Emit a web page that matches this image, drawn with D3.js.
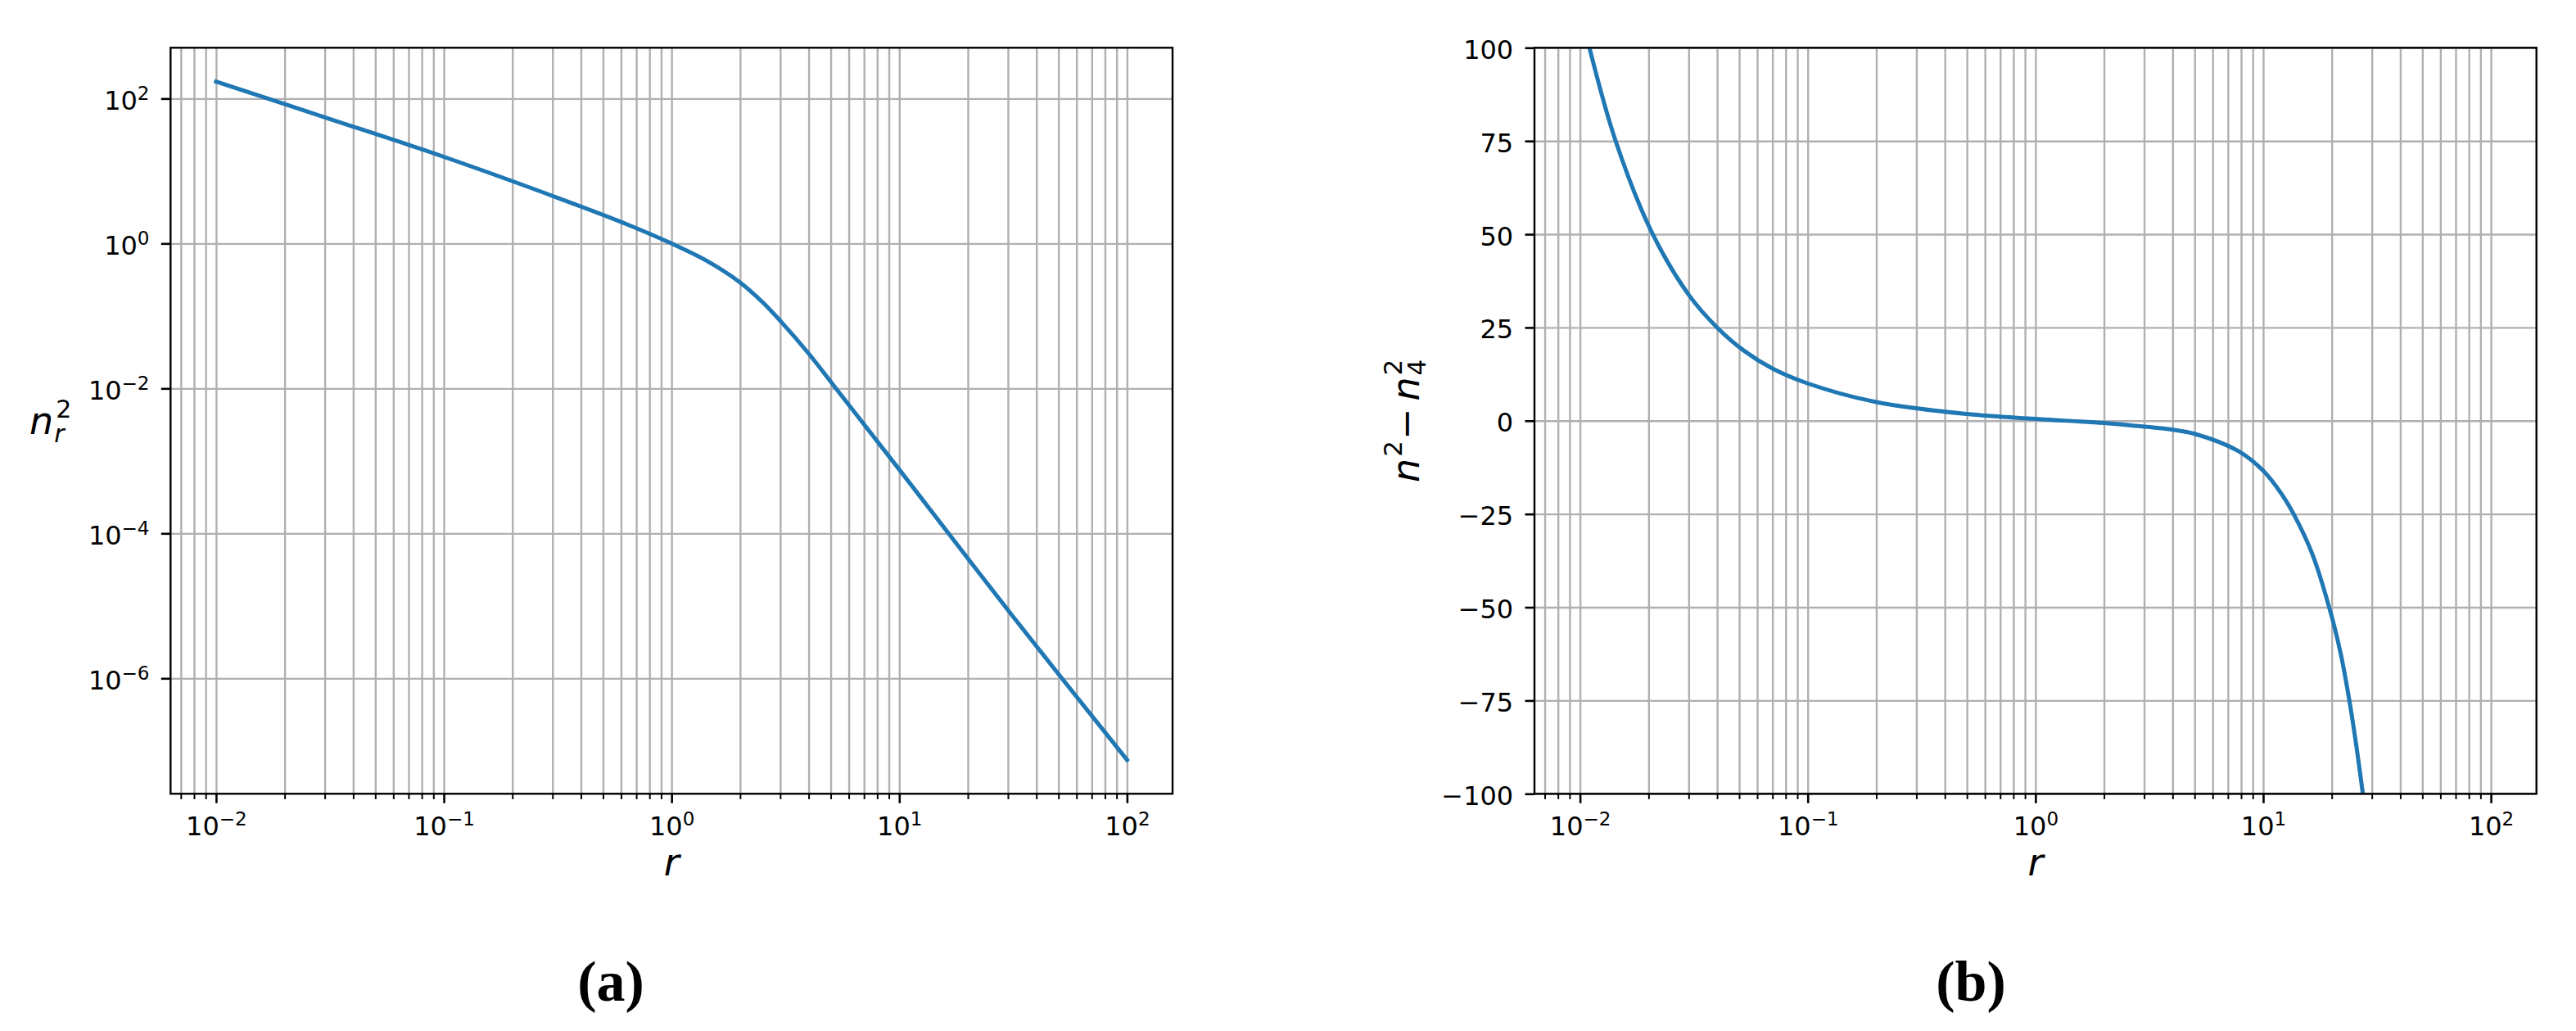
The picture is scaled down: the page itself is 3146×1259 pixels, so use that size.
<!DOCTYPE html>
<html>
<head>
<meta charset="utf-8">
<script src="https://cdn.jsdelivr.net/npm/d3@7"></script>
<style>
body { margin: 0; background: #fff; }
svg text { font-family: "DejaVu Sans", sans-serif; }
</style>
</head>
<body>
<svg id="fig" width="3146" height="1259"></svg>
<script>
// panel (a): n_r^2 against r (log-log)
var rA = [0.01, 0.0316, 0.1, 0.316, 0.631, 1, 1.41, 2, 2.51, 3, 3.98, 5.15, 10, 31.6, 100];
var nA = [171, 52.2, 15.7, 4.27, 1.86, 1.0, 0.589, 0.29, 0.155, 0.086, 0.0309, 0.011, 7.6e-4, 7.1e-6, 7.5e-8];

// panel (b): n^2 - n_4^2 against r (log x, linear y)
var rB = [0.011, 0.0143, 0.0206, 0.03, 0.04, 0.0527, 0.07, 0.1, 0.2, 0.5, 1, 2, 2.58, 4, 5, 7.76, 10, 12, 13.6, 16.5, 19.9, 22, 23.9, 25.7, 27.4];
var dB = [100, 75.2, 50.7, 33.8, 25, 18.7, 14, 10, 5, 1.8, 0.5, -0.6, -1.2, -2.4, -3.5, -8.1, -13.4, -19.5, -25, -36, -52, -63, -75, -87.5, -100];

// ticks
var xTickExp = [-2, -1, 0, 1, 2];
var yTickExpA = [2, 0, -2, -4, -6];
var yTicksB = [100, 75, 50, 25, 0, -25, -50, -75, -100];
var panelNames = ["(a)", "(b)"];

var lineColor = "#1f77b4";
var gridColor = "#b0b0b0";

var plotTop = 58.3, plotBottom = 969.3;
var plotH = plotBottom - plotTop;
var panelA = {left: 208.3, right: 1432};
var panelB = {left: 1874, right: 3097.7};

var svg = d3.select("#fig");
svg.append("rect").attr("width", 3146).attr("height", 1259).attr("fill", "#fff");

// matplotlib style 5% margin, in log space for log axes
function logPad(lo, hi) {
	var a = Math.log10(lo), b = Math.log10(hi), m = 0.05 * (b - a);
	return [Math.pow(10, a - m), Math.pow(10, b + m)];
}

function minorTicks(domain) {
	var out = [];
	for (var e = -4; e <= 3; e++) {
		for (var k = 2; k <= 9; k++) {
			var v = k * Math.pow(10, e);
			if (v >= domain[0] && v <= domain[1]) out.push(v);
		}
	}
	return out;
}

function expText(e) {
	return (e < 0 ? "\u2212" : "") + Math.abs(e);
}

var xMajor = xTickExp.map(function(e){ return Math.pow(10, e); });
var xDomain = logPad(rA[0], rA[rA.length - 1]);

function drawPanel(p, x, y, yMajor, yIsLog, rs, vs, clipId) {
	var g = svg.append("g").attr("transform", "translate(" + p.left + "," + plotTop + ")");
	var w = p.right - p.left;
	var xMinor = minorTicks(x.domain());

	// grid
	g.append("g").attr("transform", "translate(0," + plotH + ")")
		.call(d3.axisBottom(x).tickValues(xMajor.concat(xMinor)).tickSize(plotH).tickFormat(""))
		.call(function(s){ s.select(".domain").remove(); })
		.selectAll("line").attr("y2", -plotH).attr("stroke", gridColor).attr("stroke-width", 2.4);
	g.append("g")
		.call(d3.axisLeft(y).tickValues(yMajor).tickSize(w).tickFormat(""))
		.call(function(s){ s.select(".domain").remove(); })
		.selectAll("line").attr("x2", w).attr("stroke", gridColor).attr("stroke-width", 2.4);

	// curve
	g.append("clipPath").attr("id", clipId).append("rect").attr("width", w).attr("height", plotH);
	var line = d3.line()
		.x(function(d, i){ return x(rs[i]); })
		.y(function(d){ return y(d); })
		.curve(d3.curveCatmullRom.alpha(0.5));
	g.append("path").datum(vs)
		.attr("clip-path", "url(#" + clipId + ")")
		.attr("d", line)
		.attr("fill", "none")
		.attr("stroke", lineColor)
		.attr("stroke-width", 5)
		.attr("stroke-linecap", "square");

	// spines
	g.append("rect").attr("width", w).attr("height", plotH)
		.attr("fill", "none").attr("stroke", "#000").attr("stroke-width", 2.4);

	// x ticks
	g.append("g").attr("transform", "translate(0," + plotH + ")")
		.call(d3.axisBottom(x).tickValues(xMinor).tickSize(6.6).tickFormat(""))
		.call(function(s){ s.select(".domain").remove(); })
		.selectAll("line").attr("stroke", "#000").attr("stroke-width", 2);
	var xa = g.append("g").attr("transform", "translate(0," + plotH + ")")
		.call(d3.axisBottom(x).tickValues(xMajor).tickSize(11.5).tickFormat(""))
		.call(function(s){ s.select(".domain").remove(); })
		.attr("font-family", null).attr("font-size", 32);
	xa.selectAll("line").attr("stroke", "#000").attr("stroke-width", 2.6);
	xa.selectAll(".tick text").each(function(d){
		var t = d3.select(this).attr("y", 50.7).attr("dy", null).attr("fill", "#000").text("10");
		t.append("tspan").attr("dy", -12).attr("font-size", 23).text(expText(Math.round(Math.log10(d))));
	});

	// y ticks
	var ya = g.append("g")
		.call(d3.axisLeft(y).tickValues(yMajor).tickSize(11.5).tickFormat(""))
		.call(function(s){ s.select(".domain").remove(); })
		.attr("font-family", null).attr("font-size", 32);
	ya.selectAll("line").attr("stroke", "#000").attr("stroke-width", 2.6);
	ya.selectAll(".tick text").each(function(d){
		var t = d3.select(this).attr("x", -25.8).attr("y", 13).attr("dy", null).attr("fill", "#000");
		if (yIsLog) {
			t.text("10");
			t.append("tspan").attr("dy", -12).attr("font-size", 23).text(expText(Math.round(Math.log10(d))));
		} else {
			t.text(d < 0 ? "\u2212" + (-d) : String(d));
		}
	});

	// x label
	g.append("text").attr("x", w / 2).attr("y", 1069 - plotTop)
		.attr("text-anchor", "middle").attr("font-size", 46).attr("font-style", "italic").text("r");
	return g;
}

// panel (a)
var xA = d3.scaleLog().domain(xDomain).range([0, panelA.right - panelA.left]);
var yA = d3.scaleLog().domain(logPad(d3.min(nA), d3.max(nA))).range([plotH, 0]);
drawPanel(panelA, xA, yA, yTickExpA.map(function(e){ return Math.pow(10, e); }), true, rA, nA, "clipA");

// panel (b)
var xB = d3.scaleLog().domain(xDomain).range([0, panelB.right - panelB.left]);
var yB = d3.scaleLinear().domain([-100, 100]).range([plotH, 0]);
drawPanel(panelB, xB, yB, yTicksB, false, rB, dB, "clipB");

// y label (a): n_r^2, horizontal
var la = svg.append("text").attr("x", 36).attr("y", 530).attr("font-size", 46);
la.append("tspan").attr("font-style", "italic").text("n");
la.append("tspan").attr("font-size", 30).attr("dx", 3).attr("dy", -20).text("2");
la.append("tspan").attr("font-size", 30).attr("font-style", "italic").attr("dx", -21).attr("dy", 30).text("r");

// y label (b): n^2 - n_4^2, rotated
var lb = svg.append("text").attr("transform", "translate(1733,514) rotate(-90)")
	.attr("x", -75).attr("y", 0).attr("font-size", 46);
lb.append("tspan").attr("font-style", "italic").text("n");
lb.append("tspan").attr("font-size", 31).attr("dx", 2).attr("dy", -21).text("2");
lb.append("tspan").attr("dx", 1).attr("dy", 21).text("\u2212");
lb.append("tspan").attr("font-style", "italic").attr("dx", 9).text("n");
lb.append("tspan").attr("font-size", 31).attr("dx", 2).attr("dy", -21).text("2");
lb.append("tspan").attr("font-size", 31).attr("dx", -19.7).attr("dy", 29).text("4");

// sub-figure captions
svg.selectAll("text.cap").data(panelNames).enter().append("text")
	.attr("class", "cap")
	.attr("x", function(d, i){ return i === 0 ? 746 : 2407; })
	.attr("y", 1222)
	.attr("text-anchor", "middle")
	.attr("font-size", 70)
	.attr("font-weight", "bold")
	.style("font-family", "'Liberation Serif', serif")
	.text(function(d){ return d; });
</script>
</body>
</html>
